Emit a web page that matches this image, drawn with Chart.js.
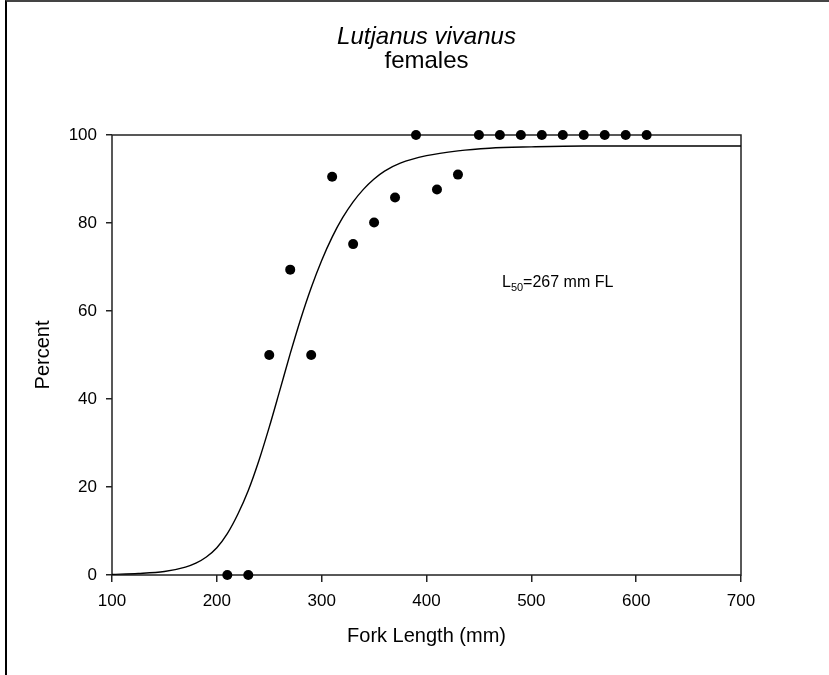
<!DOCTYPE html>
<html>
<head>
<meta charset="utf-8">
<script src="https://cdn.jsdelivr.net/npm/chart.js@4.4.0/dist/chart.umd.min.js"></script>
<style>
  html, body { margin: 0; padding: 0; background: #fff; }
  #wrap { position: relative; width: 829px; height: 675px; overflow: hidden; }
  #frame { position: absolute; left: 5px; top: 0; width: 830px; height: 680px;
           border-left: 2px solid #000; border-top: 2px solid #444; box-sizing: border-box; }
  canvas { position: absolute; left: 0; top: 0; }
</style>
</head>
<body>
<div id="wrap">
  <div id="frame"></div>
  <canvas id="maturityChart" width="829" height="675"></canvas>
</div>
<script>
// observed percent mature per 20 mm fork length class
const lengthClasses = [210, 230, 250, 270, 290, 310, 330, 350, 370, 390, 410, 430,
                       450, 470, 490, 510, 530, 550, 570, 590, 610];
const percentMature = [0, 0, 50, 69.4, 50, 90.5, 75.2, 80.1, 85.8, 100, 87.6, 91,
                       100, 100, 100, 100, 100, 100, 100, 100, 100];

// fitted maturity curve
const curveLengths = [100, 125, 150, 170, 180, 190, 200, 210, 220, 230, 240, 250, 260, 270,
                      280, 290, 300, 310, 320, 330, 340, 350, 360, 375, 400, 430, 460, 500,
                      550, 600, 650, 700];
const curvePercent = [0.15, 0.35, 0.8, 1.8, 2.7, 4.1, 6.2, 9.4, 13.8, 19.2, 25.9, 33.6, 41.9, 50.3,
                      58.2, 65.3, 71.5, 76.8, 81.2, 84.8, 87.7, 90.0, 91.8, 93.6, 95.3, 96.4, 97.0, 97.3,
                      97.5, 97.5, 97.5, 97.5];

const titleLines = ['Lutjanus vivanus', 'females'];
const xAxisTitle = 'Fork Length (mm)';
const yAxisTitle = 'Percent';
const l50Label = { main: 'L', sub: '50', rest: '=267 mm FL', x: 472, y: 65.4 };

const FONT = "'Liberation Sans', Arial, Helvetica, sans-serif";

const framePlugin = {
    id: 'plotFrame',
    beforeDatasetsDraw(chart) {
        const { ctx, chartArea: a } = chart;
        ctx.save();
        ctx.strokeStyle = '#222';
        ctx.lineWidth = 1.5;
        ctx.strokeRect(a.left, a.top, a.right - a.left, a.bottom - a.top);
        ctx.restore();
    }
};

const textPlugin = {
    id: 'figureText',
    afterDraw(chart) {
        const { ctx, chartArea: a, scales } = chart;
        const cx = (a.left + a.right) / 2;
        ctx.save();
        ctx.fillStyle = '#000';
        ctx.textAlign = 'center';
        ctx.textBaseline = 'alphabetic';
        ctx.font = 'italic 24px ' + FONT;
        ctx.fillText(titleLines[0], cx, 44);
        ctx.font = '24px ' + FONT;
        ctx.fillText(titleLines[1], cx, 68);

        // L50 note
        let x = scales.x.getPixelForValue(l50Label.x);
        const y = scales.y.getPixelForValue(l50Label.y);
        ctx.textAlign = 'left';
        ctx.font = '16px ' + FONT;
        ctx.fillText(l50Label.main, x, y);
        x += ctx.measureText(l50Label.main).width;
        ctx.font = '11px ' + FONT;
        ctx.fillText(l50Label.sub, x, y + 4);
        x += ctx.measureText(l50Label.sub).width;
        ctx.font = '16px ' + FONT;
        ctx.fillText(l50Label.rest, x, y);
        ctx.restore();
    }
};

const ctx = document.getElementById('maturityChart').getContext('2d');
new Chart(ctx, {
    type: 'scatter',
    data: {
        datasets: [{
            label: 'curve',
            data: curveLengths.map((x, i) => ({ x, y: curvePercent[i] })),
            showLine: true,
            borderColor: '#000',
            borderWidth: 1.4,
            pointRadius: 0,
            cubicInterpolationMode: 'monotone',
            fill: false
        }, {
            label: 'observed',
            data: lengthClasses.map((x, i) => ({ x, y: percentMature[i] })),
            pointRadius: 5,
            backgroundColor: '#000',
            borderWidth: 0,
            clip: false
        }]
    },
    options: {
        responsive: false,
        animation: false,
        devicePixelRatio: 1,
        layout: { padding: { left: 0, top: 135, right: 88, bottom: 0 } },
        plugins: { legend: { display: false }, tooltip: { enabled: false } },
        scales: {
            x: {
                type: 'linear',
                min: 100, max: 700,
                afterFit(scale) { scale.height = 100; },
                border: { display: false },
                grid: { drawOnChartArea: false, drawTicks: true, tickLength: 7, color: '#222', lineWidth: 1.5 },
                ticks: { stepSize: 100, color: '#000', padding: 9, font: { family: FONT, size: 17 } },
                title: { display: true, text: xAxisTitle, color: '#000',
                         font: { family: FONT, size: 20 }, padding: { top: 0, bottom: 27 } }
            },
            y: {
                type: 'linear',
                min: 0, max: 100,
                afterFit(scale) { scale.width = 112; },
                border: { display: false },
                grid: { drawOnChartArea: false, drawTicks: true, tickLength: 6, color: '#222', lineWidth: 1.5 },
                ticks: { stepSize: 20, color: '#000', padding: 9, font: { family: FONT, size: 17 } },
                title: { display: true, text: yAxisTitle, color: '#000',
                         font: { family: FONT, size: 20 }, padding: { top: 31, bottom: 0 } }
            }
        }
    },
    plugins: [framePlugin, textPlugin]
});
</script>
</body>
</html>
